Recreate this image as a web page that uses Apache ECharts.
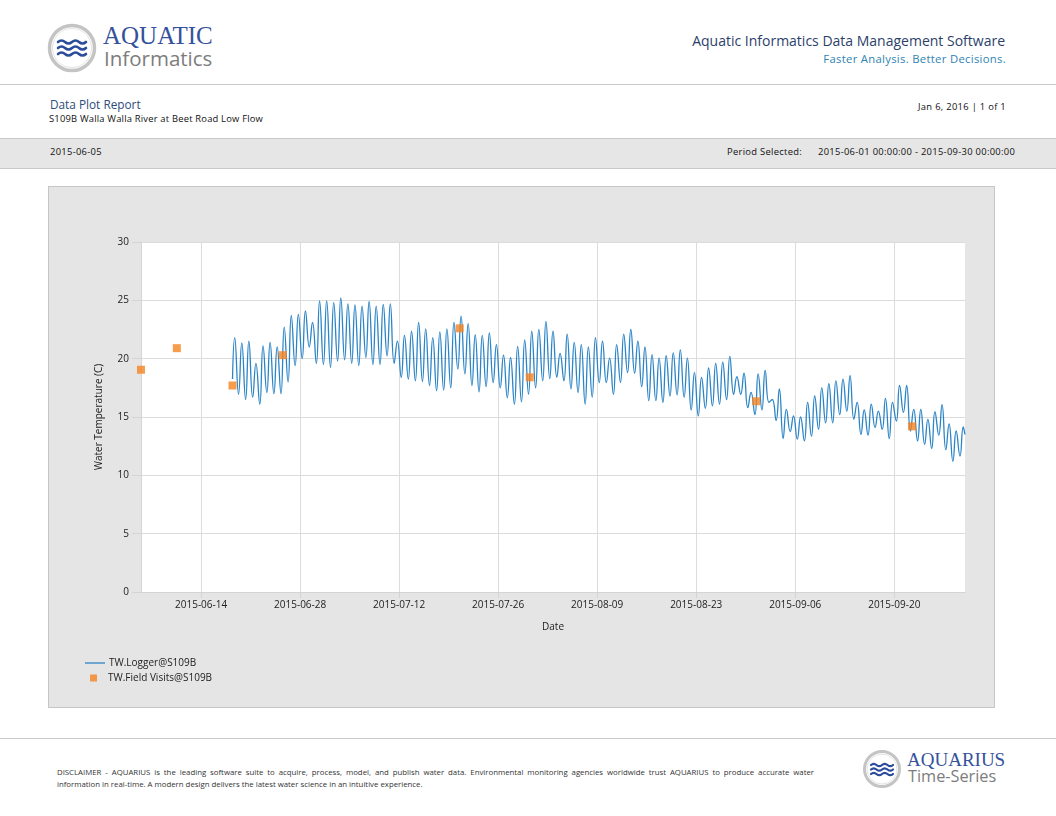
<!DOCTYPE html>
<html>
<head>
<meta charset="utf-8">
<script src="https://cdn.jsdelivr.net/npm/echarts@6/dist/echarts.min.js"></script>
<style>
  html, body { margin: 0; padding: 0; background: #fff; }
  body { width: 1056px; height: 816px; position: relative; overflow: hidden; font-family: "Open Sans", sans-serif; color: #222; }
  .abs { position: absolute; white-space: nowrap; }
  .hr { position: absolute; left: 0; width: 1056px; height: 0; border-top: 1px solid #c8c8c8; }
  .small { font-size: 9.4px; letter-spacing: 0.3px; color: #111; }
  #band { position: absolute; left: 0; top: 138px; width: 1056px; height: 29px; background: #e6e6e6; border-top: 1px solid #c8c8c8; border-bottom: 1px solid #c8c8c8; }
  #chart { position: absolute; left: 48px; top: 186px; width: 945px; height: 520px; border: 1px solid #c6c6c6; }
  .disc { position: absolute; left: 57px; width: 757px; font-size: 7.8px; color: #333; white-space: nowrap; }
  #disc1 { top: 767px; text-align: justify; text-align-last: justify; white-space: normal; }
  #disc2 { top: 779px; }
</style>
</head>
<body>
<svg class="abs" style="left:47px;top:23px" width="50" height="50" viewBox="0 0 50 50">
  <circle cx="25" cy="25" r="22.5" fill="#fff" stroke="#c4c4c4" stroke-width="3.5"/>
  <circle cx="25" cy="25" r="19.5" fill="none" stroke="#e4e4e4" stroke-width="1"/>
  <g fill="none" stroke="#2b4b9b" stroke-width="2.6" stroke-linecap="round">
    <path d="M11,19 q3.5,-3 7,0 t7,0 t7,0 t7,0"/>
    <path d="M11,25 q3.5,-3 7,0 t7,0 t7,0 t7,0"/>
    <path d="M11,31 q3.5,-3 7,0 t7,0 t7,0 t7,0"/>
  </g>
</svg>
<div class="abs" style="left:103px;top:22px;font-family:'Liberation Serif',serif;font-size:25px;line-height:28px;color:#34519c">AQUATIC</div>
<div class="abs" style="left:104px;top:46px;font-size:20.5px;line-height:24px;color:#7d7d7d">Informatics</div>

<div class="abs" style="right:51px;top:31px;font-size:14px;color:#2c3f6b">Aquatic Informatics Data Management Software</div>
<div class="abs" style="right:50px;top:51px;font-size:11.3px;letter-spacing:0.3px;color:#2f83b3">Faster Analysis. Better Decisions.</div>

<div class="hr" style="top:84px"></div>

<div class="abs" style="left:50px;top:96px;font-size:11.8px;color:#2d4c7c">Data Plot Report</div>
<div class="abs small" style="left:49px;top:112px;letter-spacing:0.2px">S109B Walla Walla River at Beet Road Low Flow</div>
<div class="abs small" style="right:50px;top:100px">Jan 6, 2016 | 1 of 1</div>

<div id="band"></div>
<div class="abs small" style="left:50px;top:145px">2015-06-05</div>
<div class="abs small" style="left:727px;top:145px">Period Selected:</div>
<div class="abs small" style="left:818px;top:145px">2015-06-01 00:00:00 - 2015-09-30 00:00:00</div>

<div id="chart"></div>

<div class="hr" style="top:738px"></div>
<div class="disc" id="disc1">DISCLAIMER - AQUARIUS is the leading software suite to acquire, process, model, and publish water data. Environmental monitoring agencies worldwide trust AQUARIUS to produce accurate water</div>
<div class="disc" id="disc2">information in real-time. A modern design delivers the latest water science in an intuitive experience.</div>

<svg class="abs" style="left:862px;top:749px" width="40" height="40" viewBox="0 0 40 40">
  <circle cx="20" cy="20" r="17.5" fill="#fff" stroke="#c4c4c4" stroke-width="3"/>
  <circle cx="20" cy="20" r="15" fill="none" stroke="#e4e4e4" stroke-width="1"/>
  <g fill="none" stroke="#2b4b9b" stroke-width="2.2" stroke-linecap="round">
    <path d="M9,16 q2.75,-2.4 5.5,0 t5.5,0 t5.5,0 t5.5,0"/>
    <path d="M9,20.5 q2.75,-2.4 5.5,0 t5.5,0 t5.5,0 t5.5,0"/>
    <path d="M9,25 q2.75,-2.4 5.5,0 t5.5,0 t5.5,0 t5.5,0"/>
  </g>
</svg>
<div class="abs" style="left:907px;top:749px;font-family:'Liberation Serif',serif;font-size:19px;line-height:21px;color:#34519c">AQUARIUS</div>
<div class="abs" style="left:908px;top:766px;font-size:16.3px;line-height:20px;color:#7d7d7d">Time-Series</div>

<script>
// logger: daily highs (evening) and the following morning lows, from 2015-06-18
const loggerFirstDay = "2015-06-18";
const loggerStart = ["2015-06-18 10:30", 18.25];
const loggerEnd = ["2015-09-29 23:50", 13.5];
const dailyHigh = [
  21.8, 21.35, 21.5, 19.6, 21.1, 21.4, 21.0, 22.7, 23.7, 23.8, 24.1, 23.1, 24.95,
  24.95, 24.8, 25.2, 24.7, 24.6, 24.5, 24.9, 24.5, 24.65, 24.7, 21.5, 22.0, 22.35, 23.1,
  22.55, 21.8, 22.3, 22.55, 23.1, 23.65, 23.0, 22.05, 22.0, 22.2, 21.2, 20.3, 20.1, 21.05,
  21.6, 22.35, 22.5,
  23.2, 22.35, 20.45, 22.1, 21.4, 21.2, 21.0, 21.8, 21.5, 20.05, 21.2, 22.1, 22.5, 21.5,
  21.0, 20.35, 20.05, 20.25, 20.5, 20.75, 20.05, 18.8, 18.4, 19.2, 19.6, 19.7, 20.2, 18.45,
  18.75, 17.1, 18.7,
  19.0, 16.5, 17.4, 15.65, 15.1, 15.0, 16.25, 16.8, 17.5, 17.85, 18.1, 18.25, 18.55, 16.25,
  15.6, 16.1, 15.5, 16.6, 16.25, 17.7, 17.7, 15.65, 15.65, 14.8, 15.45, 16.05, 14.4, 13.8,
  14.15,
];
const dailyLow = [
  16.95, 16.5, 16.7, 16.1, 17.1, 17.0, 17.0, 18.0, 19.4, 20.0, 21.0, 19.6, 19.5,
  19.25, 19.8, 19.9, 19.6, 19.4, 20.1, 19.5, 19.5, 20.25, 19.6, 18.4, 18.25, 18.1, 18.05,
  17.7, 17.25, 17.3, 17.5, 19.1, 18.7, 17.7, 17.15, 17.6, 17.95, 17.5, 16.65, 16.1, 16.3,
  16.95, 17.5, 18.1,
  18.3, 18.4, 18.1, 17.4, 17.1, 16.1, 16.7, 17.95, 17.95, 16.95, 17.95, 18.8, 18.75, 17.6,
  16.4, 16.4, 16.25, 16.8, 16.9, 16.7, 15.6, 15.1, 15.75, 15.95, 16.1, 16.5, 16.95, 16.95,
  15.8, 15.2, 15.6,
  16.25, 14.7, 13.15, 13.75, 13.1, 12.95, 13.35, 13.95, 14.5, 14.5, 15.2, 15.5, 14.8, 13.5,
  13.45, 14.1, 13.95, 13.15, 14.65, 15.4, 13.8, 12.95, 12.65, 12.3, 13.45, 12.2, 11.2, 11.65,
];

const visitTimes = [
  "2015-06-05 12:00", "2015-06-10 13:30", "2015-06-18 10:30", "2015-06-25 13:00",
  "2015-07-20 13:30", "2015-07-30 11:00", "2015-08-31 11:30", "2015-09-22 12:00",
];
const visitValues = [19.05, 20.9, 17.7, 20.3, 22.6, 18.4, 16.35, 14.2];

const xTickLabels = [
  "2015-06-14", "2015-06-28", "2015-07-12", "2015-07-26", "2015-08-09",
  "2015-08-23", "2015-09-06", "2015-09-20",
];
const xMin = "2015-06-05 12:00";
const xMax = "2015-09-30 00:00";

function toTime(s) {
  const [d, hm = "00:00"] = s.split(" ");
  const [y, m, day] = d.split("-").map(Number);
  const [h, mi] = hm.split(":").map(Number);
  return new Date(y, m - 1, day, h, mi).getTime();
}
function pad(n) {
  return String(n).padStart(2, "0");
}
function fmtDay(v) {
  const d = new Date(v);
  return `${d.getFullYear()}-${pad(d.getMonth() + 1)}-${pad(d.getDate())}`;
}

const DAY = 86400000;
const first = toTime(loggerFirstDay);
const loggerData = [[toTime(loggerStart[0]), loggerStart[1]]];
dailyHigh.forEach((hi, i) => {
  loggerData.push([first + i * DAY + 18 * 3600000, hi]);
  if (i < dailyLow.length) loggerData.push([first + (i + 1) * DAY + 7 * 3600000, dailyLow[i]]);
});
loggerData.push([toTime(loggerEnd[0]), loggerEnd[1]]);

const visitData = visitTimes.map((t, i) => [toTime(t), visitValues[i]]);
const tickValues = xTickLabels.map(toTime);

const chart = echarts.init(document.getElementById("chart"));
const font = "'Open Sans', sans-serif";

chart.setOption({
  animation: false,
  backgroundColor: "#e5e5e5",
  textStyle: { fontFamily: font },
  grid: {
    left: 92,
    top: 55,
    right: 29,
    bottom: 115,
    show: true,
    backgroundColor: "#fff",
    borderWidth: 0,
  },
  legend: [
    {
      data: [{ name: "TW.Logger@S109B", icon: "rect" }],
      left: 36,
      top: 471,
      padding: 0,
      itemWidth: 20,
      itemHeight: 1.3,
      textStyle: { fontSize: 10, color: "#222", fontFamily: font, padding: [0, 0, 0, -1] },
    },
    {
      data: [{ name: "TW.Field Visits@S109B", icon: "rect" }],
      left: 41,
      top: 486,
      padding: 0,
      itemWidth: 7,
      itemHeight: 7,
      textStyle: { fontSize: 10, color: "#222", fontFamily: font, padding: [0, 0, 0, 6] },
    },
  ],
  xAxis: {
    type: "value",
    min: toTime(xMin),
    max: toTime(xMax),
    name: "Date",
    nameLocation: "middle",
    nameGap: 30,
    nameTextStyle: { fontSize: 10, color: "#222" },
    axisLine: { show: true, lineStyle: { color: "#d4d4d4" } },
    axisTick: { show: true, length: 6, customValues: tickValues, lineStyle: { color: "#d4d4d4" } },
    axisLabel: {
      customValues: tickValues,
      formatter: (v) => fmtDay(v),
      fontSize: 10,
      color: "#222",
      margin: 8,
      hideOverlap: false,
    },
    splitLine: { show: true, lineStyle: { color: "#dcdcdc", width: 1 } },
  },
  yAxis: {
    type: "value",
    min: 0,
    max: 30,
    interval: 5,
    name: "Water Temperature (C)",
    nameLocation: "middle",
    nameGap: 37,
    nameTextStyle: { fontSize: 10, color: "#222" },
    axisLine: { show: true, lineStyle: { color: "#d4d4d4" } },
    axisTick: { show: true, length: 9, lineStyle: { color: "#d4d4d4" } },
    axisLabel: { fontSize: 10, color: "#222", margin: 12 },
    splitLine: { show: true, lineStyle: { color: "#dcdcdc", width: 1 } },
  },
  series: [
    {
      name: "TW.Logger@S109B",
      type: "line",
      data: loggerData,
      smooth: 0.5,
      symbol: "none",
      lineStyle: { color: "#2b84c6", width: 1.3 },
      itemStyle: { color: "#2b84c6" },
      z: 2,
    },
    {
      name: "TW.Field Visits@S109B",
      type: "scatter",
      data: visitData,
      symbol: "rect",
      symbolSize: 8,
      itemStyle: { color: "#f58220" },
      z: 3,
    },
  ],
});
</script>
</body>
</html>
